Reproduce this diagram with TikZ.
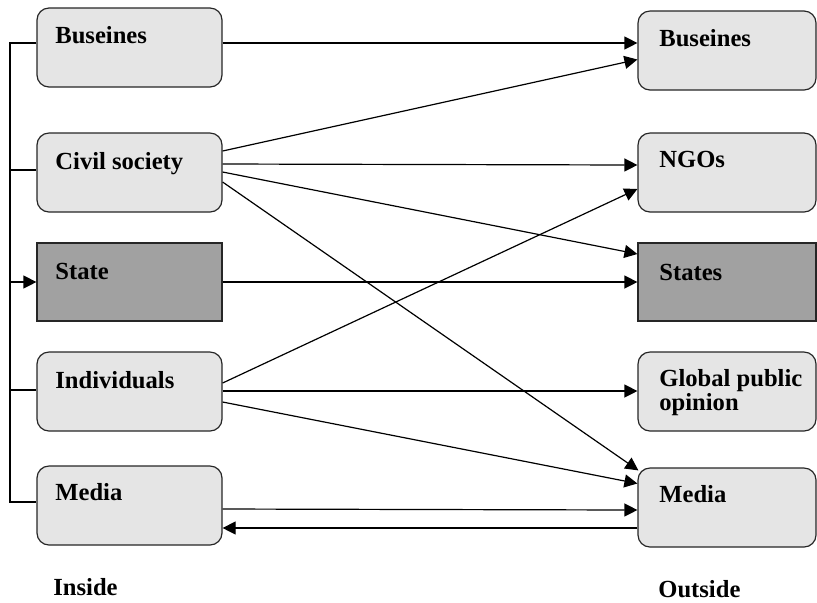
\documentclass[tikz,border=0pt]{standalone}
\usepackage{fontspec}
\setmainfont{Liberation Serif}
\usetikzlibrary{arrows.meta,calc}
\tikzset{
  lbox/.style={draw=black!85, line width=0.6pt, fill=black!10, rounded corners=6pt,
    minimum width=92.5pt, minimum height=39.5pt, inner sep=0pt},
  rbox/.style={lbox, minimum width=89pt},
  sbox/.style={draw=black!85, line width=0.6pt, fill=black!37, inner sep=0pt,
    minimum width=92.5pt, minimum height=39pt},
  lbl/.style={anchor=base west, inner sep=0pt, font=\fontsize{12.3}{12}\selectfont\bfseries, align=left},
  link/.style={line width=0.6pt, -{Triangle[length=6.5pt,width=6.5pt]}},
}
\begin{document}
\begin{tikzpicture}[x=0.5pt,y=-0.5pt]
\useasboundingbox (0,0) rectangle (817,602);
\node [lbox] (busL) at (129.5,47.5) {};
\node [lbox] (civL) at (129.5,172.5) {};
\node [sbox] (staL) at (129.5,282) {};
\node [lbox] (indL) at (129.5,391.5) {};
\node [lbox] (medL) at (129.5,505.5) {};
\node [rbox] (busR) at (727,50.5) {};
\node [rbox] (ngoR) at (727,172.5) {};
\node [sbox, minimum width=89pt] (staR) at (727,282) {};
\node [rbox] (gloR) at (727,391.5) {};
\node [rbox] (medR) at (727,507.5) {};
\node [lbl] (busLt) at (55,43) {Buseines};
\node [lbl] (civLt) at (55,169) {Civil society};
\node [lbl] (staLt) at (55,279) {State};
\node [lbl] (indLt) at (55,388) {Individuals};
\node [lbl] (medLt) at (55,500) {Media};
\node [lbl] (busRt) at (659,46) {Buseines};
\node [lbl] (ngoRt) at (659,167) {NGOs};
\node [lbl] (staRt) at (659,280) {States};
\node [lbl] (gloRt) at (659,410) {Global public\\opinion};
\node [lbl] (medRt) at (659,502) {Media};
\node [lbl] (inside) at (53,595) {Inside};
\node [lbl] (outside) at (658,597) {Outside};
\coordinate (railtop) at (10,43);
\coordinate (railbot) at (10,502);
\draw [line width=0.6pt] ($(busL.west)+(0,-4.5)$) -- (railtop) -- (railbot) -- ($(medL.west)+(0,-3.5)$);
\draw [line width=0.6pt] (railtop |- 0,170) -- ($(civL.west)+(0,-2.5)$);
\draw [line width=0.6pt] (railtop |- 0,390) -- ($(indL.west)+(0,-1.5)$);
\draw [link] (railtop |- staL.west) -- (staL.west);
\draw [link] ($(busL.east)+(0,-4.5)$) -- ($(busR.west)+(0,-7.5)$);
\draw [link] ($(civL.east)+(0,-21.5)$) -- ($(busR.west)+(0,9)$);
\draw [link] ($(civL.east)+(0,-8.5)$) -- ($(ngoR.west)+(0,-7.5)$);
\draw [link] ($(civL.east)+(0,-0.5)$) -- ($(staR.west)+(0,-28)$);
\draw [link] ($(civL.east)+(0,9.5)$) -- ($(medR.north west)+(1,3)$);
\draw [link] (staL.east) -- (staR.west);
\draw [link] ($(indL.east)+(0,-8.5)$) -- ($(ngoR.west)+(0,16.5)$);
\draw [link] ($(indL.east)+(0,-0.5)$) -- ($(gloR.west)+(0,-0.5)$);
\draw [link] ($(indL.east)+(0,10.5)$) -- ($(medR.west)+(0,-24)$);
\draw [link] ($(medL.east)+(0,3.5)$) -- ($(medR.west)+(0,2.5)$);
\draw [link] ($(medR.west)+(0,20.5)$) -- ($(medL.east)+(0,22.5)$);
\end{tikzpicture}
\end{document}
